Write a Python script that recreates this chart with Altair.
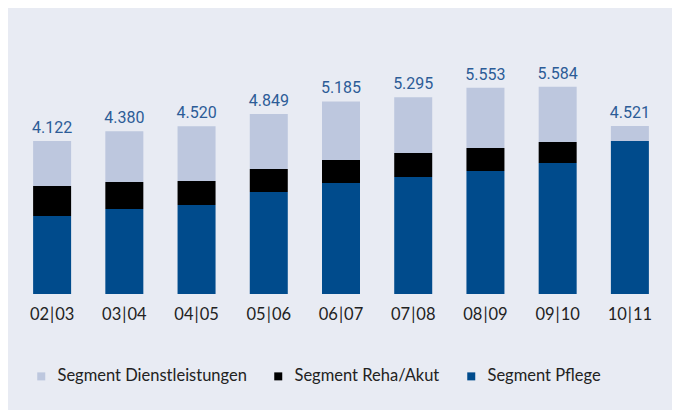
import altair as alt
import pandas as pd

years = ["02\u200a|\u200a03", "03\u200a|\u200a04", "04\u200a|\u200a05", "05\u200a|\u200a06", "06\u200a|\u200a07",
         "07\u200a|\u200a08", "08\u200a|\u200a09", "09\u200a|\u200a10", "10\u200a|\u200a11"]
pflege = [2100, 2289, 2397, 2747, 2989, 3151, 3312, 3528, 4120]
reha = [808, 727, 646, 619, 619, 646, 619, 566, 0]
dienst = [1214, 1364, 1477, 1483, 1577, 1498, 1622, 1490, 401]
totals = [4122, 4380, 4520, 4849, 5185, 5295, 5553, 5584, 4521]

segments = ["Segment Dienstleistungen", "Segment Reha/Akut", "Segment Pflege"]
colors = ["#bdc7de", "#000000", "#004b8c"]

rows = []
for i, y in enumerate(years):
    rows.append({"year": y, "segment": "Segment Pflege", "value": pflege[i], "ord": 0})
    rows.append({"year": y, "segment": "Segment Reha/Akut", "value": reha[i], "ord": 1})
    rows.append({"year": y, "segment": "Segment Dienstleistungen", "value": dienst[i], "ord": 2})
df = pd.DataFrame(rows)
tot = pd.DataFrame({"year": years, "total": totals})
tot["label"] = [f"{t:,}".replace(",", ".") for t in totals]

xscale = alt.Scale(paddingInner=0.474, paddingOuter=0.237)
yscale = alt.Scale(domain=[0, 7567], nice=False, zero=True)

bars = alt.Chart(df).mark_bar(size=38).encode(
    x=alt.X("year:N", sort=years, scale=xscale,
            axis=alt.Axis(title=None, labelAngle=0, domain=False, ticks=False,
                          labelFontSize=16.5, labelFont="Lato", labelColor="#222222",
                          labelPadding=12)),
    y=alt.Y("value:Q", stack="zero", scale=yscale, axis=None),
    color=alt.Color("segment:N", scale=alt.Scale(domain=segments, range=colors),
                    legend=alt.Legend(title=None, orient="none", legendX=17, legendY=355,
                                      padding=0,
                                      direction="horizontal", columns=3, columnPadding=23,
                                      symbolType="square", symbolSize=64, symbolStrokeWidth=0,
                                      labelOffset=8, labelFontSize=16.5, labelFont="Lato",
                                      labelLimit=400, labelColor="#222222")),
    order=alt.Order("ord:Q"),
)

labels = alt.Chart(tot).mark_text(baseline="alphabetic", dy=-8, fontSize=16,
                                  font="Roboto", color="#2c5c97").encode(
    x=alt.X("year:N", sort=years, scale=xscale),
    y=alt.Y("total:Q", scale=yscale),
    text="label:N",
)

chart = alt.layer(bars, labels).properties(
    width=650, height=281,
    background="#e8ebf3",
    padding={"left": 8, "top": 5, "right": 6, "bottom": 25},
).configure_view(stroke=None)

chart.save("out.html", embed_options={"renderer": "svg", "actions": False})
